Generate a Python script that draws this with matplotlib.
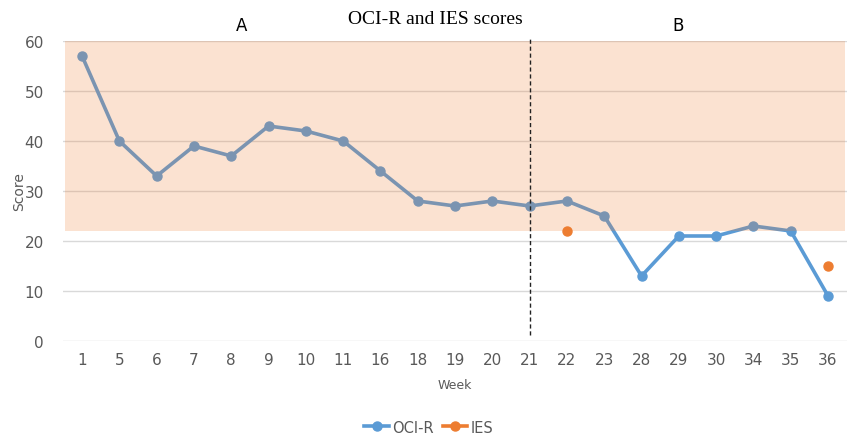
import matplotlib
matplotlib.use('Agg')
import matplotlib.pyplot as plt
from matplotlib.patches import Rectangle
import numpy as np

weeks = ['1', '5', '6', '7', '8', '9', '10', '11', '16', '18', '19', '20',
         '21', '22', '23', '28', '29', '30', '34', '35', '36']
oci_r = [57, 40, 33, 39, 37, 43, 42, 40, 34, 28, 27, 28,
         27, 28, 25, 13, 21, 21, 23, 22, 9]
ies_weeks = ['22', '36']
ies = [22, 15]
shade_low, shade_high = 22, 60
split_week = '21'

blue = '#5B9BD5'
orange = '#ED7D31'
grey_txt = '#595959'

fig = plt.figure(figsize=(8.49, 4.39), dpi=100)
ax = fig.add_axes([0.0747, 0.221, 0.9226, 0.6833])

x = np.arange(len(weeks))
ax.plot(x, oci_r, color=blue, lw=2.6, marker='o', ms=6.5, zorder=3, label='OCI-R')
ies_x = [weeks.index(w) for w in ies_weeks]
ax.plot(ies_x, ies, color=orange, lw=0, marker='o', ms=6.5, zorder=3, label='IES')

# shaded clinical range drawn over the line
ax.add_patch(Rectangle((-0.45, shade_low), len(weeks) - 0.1, shade_high - shade_low,
                       facecolor=orange, alpha=0.22, edgecolor='none', zorder=4))

sx = weeks.index(split_week)
ax.plot([sx, sx], [1.2, 60.8], color='#222222', lw=1, ls=(0, (3, 2)), zorder=5, clip_on=False)

ax.set_xlim(-0.5, len(weeks) - 0.5)
ax.set_ylim(0, 60)
ax.set_yticks(range(0, 61, 10))
ax.set_xticks(x)
ax.set_xticklabels(weeks)
ax.grid(axis='y', color='#D9D9D9', lw=1, zorder=0)
ax.set_axisbelow(True)
for s in ax.spines.values():
    s.set_visible(False)
ax.tick_params(length=0, colors=grey_txt, labelsize=11, pad=8)
ax.tick_params(axis='y', pad=14)

ax.set_xlabel('Week', color=grey_txt, fontsize=9, labelpad=8)
ax.set_ylabel('Score', color=grey_txt, fontsize=10)
ax.yaxis.set_label_coords(-0.048, 0.5)

fig.text(0.5124, 0.955, 'OCI-R and IES scores', family='Liberation Serif', fontsize=14,
         ha='center', va='center')
fig.text(0.284, 0.94, 'A', fontsize=12, ha='center', va='center')
fig.text(0.799, 0.94, 'B', fontsize=12, ha='center', va='center')

leg_handles = [plt.Line2D([0], [0], color=blue, lw=2.6, marker='o', ms=6.5),
               plt.Line2D([0], [0], color=orange, lw=2.6, marker='o', ms=6.5)]
fig.legend(leg_handles, ['OCI-R', 'IES'], loc='center', bbox_to_anchor=(0.505, 0.025),
           ncol=2, frameon=False, fontsize=10.5, handlelength=1.7, handletextpad=0.2,
           columnspacing=0.6, labelcolor=grey_txt)

fig.savefig('out.png', dpi=100)
